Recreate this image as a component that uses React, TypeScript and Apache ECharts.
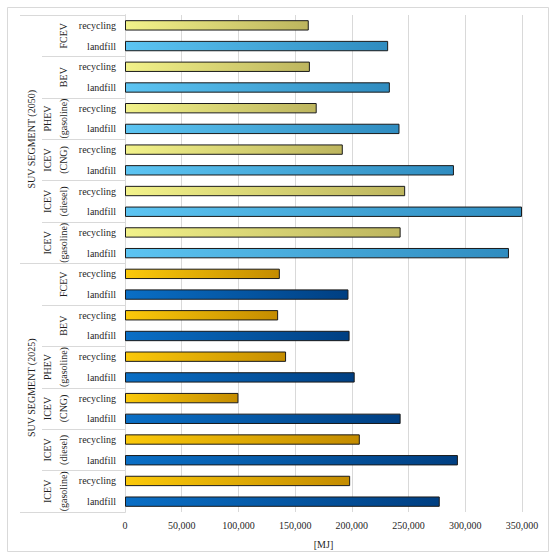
import React, { useEffect, useRef } from "react";
import * as echarts from "echarts";

const segments = ["SUV SEGMENT (2050)", "SUV SEGMENT (2025)"];
const vehicles = ["FCEV", "BEV", "PHEV\n(gasoline)", "ICEV\n(CNG)", "ICEV\n(diesel)", "ICEV\n(gasoline)"];
const endOfLife = ["recycling", "landfill"];

const recycling2050 = [162000, 163000, 169000, 192000, 247000, 243000];
const landfill2050 = [232000, 233500, 242000, 290000, 350000, 338500];
const recycling2025 = [136500, 135000, 142000, 100000, 207000, 198500];
const landfill2025 = [197000, 198000, 202500, 243000, 293500, 277500];

const xMin = 0;
const xMax = 350000;
const xInterval = 50000;
const xName = "[MJ]";

const colors = [
  [["#f2f28a", "#bdb55e"], ["#5cc4f2", "#2f8cc0"]],
  [["#fbc90a", "#c48c00"], ["#0a6fc6", "#003f82"]],
];

const FONT = "'Liberation Serif', 'DejaVu Serif', serif";

export default function App() {
  const ref = useRef<HTMLDivElement>(null);
  useEffect(() => {
    if (!ref.current) return;
    const chart = echarts.init(ref.current, undefined, { renderer: "svg" });
    const valuesBySegment = [
      [recycling2050, landfill2050],
      [recycling2025, landfill2025],
    ];
    const level1: string[] = [];
    const barData: any[] = [];
    segments.forEach((s, si) =>
      vehicles.forEach((v, vi) =>
        endOfLife.forEach((e, ei) => {
          level1.push(`${si}|${vi}|${e}`);
          const [c0, c1] = colors[si][ei];
          barData.push({
            value: valuesBySegment[si][ei][vi],
            itemStyle: {
              color: new echarts.graphic.LinearGradient(0, 0, 1, 0, [
                { offset: 0, color: c0 },
                { offset: 1, color: c1 },
              ]),
            },
          });
        })
      )
    );
    const level2 = segments.flatMap((s, si) => vehicles.map((v) => `${si}|${v}`));
    const level3 = segments.map((s, si) => `${si}|${s}`);
    const fmt = (v: string) => v.split("|").pop() as string;
    const gray = "#d9d9d9";
    const textColor = "#1f1f1f";

    chart.setOption({
      animation: false,
      graphic: [
        {
          type: "rect",
          left: 5,
          top: 5,
          shape: { width: 541, height: 544 },
          style: { fill: "none", stroke: gray, lineWidth: 1 },
          silent: true,
        },
      ],
      grid: { left: 125, right: 28, top: 15, bottom: 42 },
      xAxis: {
        type: "value",
        min: xMin,
        max: xMax,
        interval: xInterval,
        name: xName,
        nameLocation: "middle",
        nameGap: 27,
        nameTextStyle: { fontFamily: FONT, fontSize: 10, color: textColor },
        axisLine: { show: false },
        axisTick: { show: false },
        axisLabel: {
          fontFamily: FONT,
          fontSize: 10,
          color: textColor,
          margin: 8,
          formatter: (v: number) => v.toLocaleString("en-US"),
        },
        splitLine: { lineStyle: { color: gray, width: 1 } },
      },
      yAxis: [
        {
          type: "category",
          inverse: true,
          data: level1,
          axisLine: { lineStyle: { color: gray } },
          axisTick: { show: false },
          axisLabel: { fontFamily: FONT, fontSize: 10, color: textColor, margin: 9, formatter: fmt, interval: 0 },
        },
        {
          type: "category",
          inverse: true,
          position: "left",
          data: level2,
          axisLine: { lineStyle: { color: gray } },
          axisTick: { show: true, length: 83, lineStyle: { color: gray } },
          axisLabel: {
            fontFamily: FONT,
            fontSize: 10,
            color: textColor,
            rotate: 90,
            margin: 54,
            lineHeight: 16,
            align: "center",
            formatter: fmt,
            interval: 0,
          },
        },
        {
          type: "category",
          inverse: true,
          position: "left",
          data: level3,
          axisLine: { lineStyle: { color: gray } },
          axisTick: { show: true, length: 105, lineStyle: { color: gray } },
          axisLabel: {
            fontFamily: FONT,
            fontSize: 10,
            color: textColor,
            rotate: 90,
            margin: 89,
            formatter: fmt,
            interval: 0,
          },
        },
      ],
      series: [
        {
          type: "bar",
          yAxisIndex: 0,
          barWidth: "50%",
          data: barData,
          itemStyle: { borderColor: "#1a1a1a", borderWidth: 1 },
        },
      ],
    });
    return () => chart.dispose();
  }, []);
  return (
    <div
      ref={ref}
      style={{ position: "fixed", left: 0, top: 0, width: 550, height: 554, background: "#fff" }}
    />
  );
}
